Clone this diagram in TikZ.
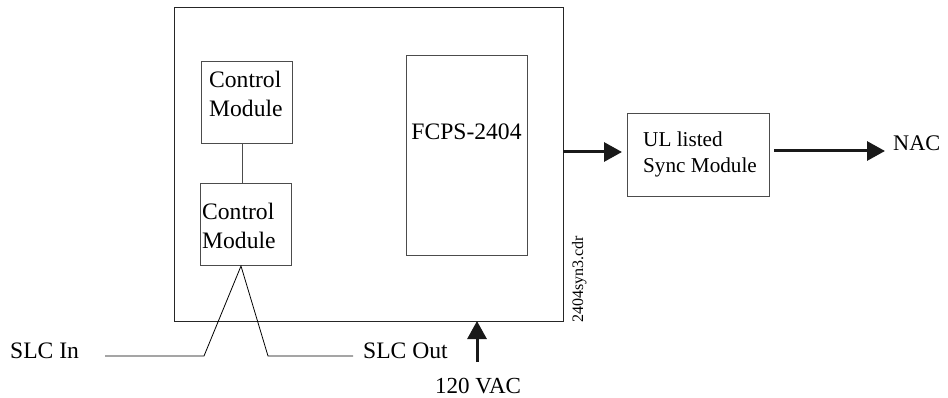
\documentclass[tikz,border=0pt]{standalone}
\usepackage{fontspec}
\setmainfont{Liberation Serif}
\usetikzlibrary{arrows.meta}
\begin{document}
\begin{tikzpicture}[x=1pt,y=-1pt,
  box/.style={draw=black!70,line width=1pt},
  wire/.style={draw=black,line width=0.8pt},
  bigarrow/.style={draw=black!90,line width=3pt,-{Triangle[length=18pt,width=19pt]}},
  lbl/.style={font=\fontsize{23.6}{28}\selectfont,inner sep=0pt,text=black},
  slbl/.style={font=\fontsize{21.2}{26}\selectfont,inner sep=0pt,text=black}]
\useasboundingbox (0,0) rectangle (948,398);
% outer enclosure
\draw[box,draw=black!85] (174,8) rectangle (563,321);
\coordinate (outE) at (563,152);
\coordinate (outB) at (477,321);
% control modules
\node[box,minimum width=91pt,minimum height=82pt,anchor=north west,inner sep=0pt] (cm1) at (201,61) {};
\node[lbl,anchor=base west] at (209,88) {Control};
\node[lbl,anchor=base west] at (209,117) {Module};
\node[box,minimum width=91pt,minimum height=82pt,anchor=north west,inner sep=0pt] (cm2) at (200,183) {};
\node[lbl,anchor=base west] at (202,220) {Control};
\node[lbl,anchor=base west] at (202,248) {Module};
\coordinate (link1) at (cm1.south -| 242,0);
\coordinate (link2) at (cm2.north -| 242,0);
\draw[box] (link1) -- (link2);
% FCPS
\node[box,minimum width=121pt,minimum height=200pt,anchor=north west,inner sep=0pt] (fcps) at (406,55) {};
\node[lbl,anchor=base] at (466.5,140) {FCPS-2404};
% file label
\node[font=\fontsize{16}{18}\selectfont,rotate=90,anchor=base west,inner sep=0pt] (fn) at (583,323) {2404syn3.cdr};
% sync module
\node[box,minimum width=142pt,minimum height=83pt,anchor=north west,inner sep=0pt] (sync) at (627,113) {};
\node[slbl,anchor=base west] at (643,147) {UL listed};
\node[slbl,anchor=base west] at (643,173) {Sync Module};
\node[slbl,font=\fontsize{22.3}{26}\selectfont,anchor=base west] (nac) at (893,151) {NAC};
\coordinate (syncIn) at (622,152);
\coordinate (syncOut) at (774,151);
\coordinate (nacIn) at (885,151);
\draw[bigarrow] (outE) -- (syncIn);
\draw[bigarrow] (syncOut) -- (nacIn);
% SLC wiring
\coordinate (apex) at (cm2.south -| 241,0);
\coordinate (inK) at (204,356);
\coordinate (inE) at (105,356);
\coordinate (outK) at (268,356);
\coordinate (outEnd) at (353,356);
\draw[wire] (inE) -- (inK) -- (apex) -- (outK) -- (outEnd);
\node[lbl,anchor=base west] (slcin) at (10,358) {SLC In};
\node[lbl,anchor=base west] (slcout) at (363,358) {SLC Out};
% power
\coordinate (pwrTail) at (477,362);
\draw[bigarrow] (pwrTail) -- (outB);
\node[lbl,font=\fontsize{23}{28}\selectfont,anchor=base west] (vac) at (435,393) {120 VAC};
\end{tikzpicture}
\end{document}
